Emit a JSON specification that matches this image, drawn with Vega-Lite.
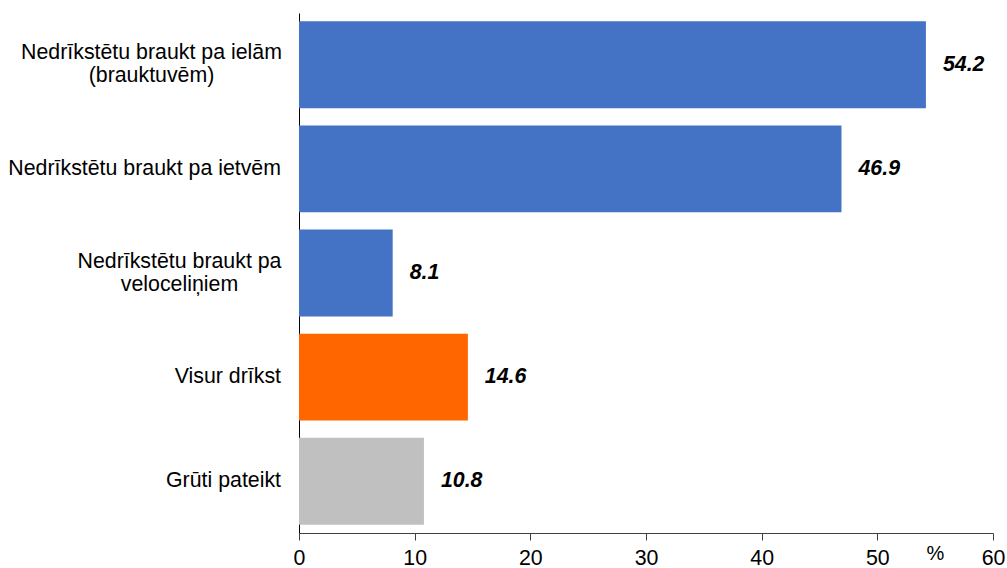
{
  "$schema": "https://vega.github.io/schema/vega-lite/v6.json",
  "width": 694,
  "height": 520,
  "autosize": {"type": "none"},
  "padding": {"left": 299, "top": 13, "right": 14, "bottom": 35},
  "config": {"view": {"stroke": null}, "font": "Liberation Sans"},
  "data": {"values": [
    {"cat": "Nedrīkstētu braukt pa ielām\n(brauktuvēm)", "value": 54.2, "group": "a"},
    {"cat": "Nedrīkstētu braukt pa ietvēm", "value": 46.9, "group": "a"},
    {"cat": "Nedrīkstētu braukt pa\nveloceliņiem", "value": 8.1, "group": "a"},
    {"cat": "Visur drīkst", "value": 14.6, "group": "b"},
    {"cat": "Grūti pateikt", "value": 10.8, "group": "c"}
  ]},
  "encoding": {
    "y": {
      "field": "cat", "type": "nominal", "sort": null,
      "scale": {"paddingInner": 0.165, "paddingOuter": 0.08},
      "axis": {
        "title": null, "ticks": false, "tickSize": 0,
        "domainColor": "#000000", "domainWidth": 1,
        "labelFontSize": 21.33, "labelColor": "#000000", "labelLineHeight": 23,
        "labelLimit": 400, "labelBaseline": "middle",
        "labelExpr": "split(datum.value, '\\n')",
        "labelAlign": {"condition": {"test": "indexof(datum.value, '\\n') >= 0", "value": "center"}, "value": "right"},
        "labelOffset": {"condition": {"test": "indexof(datum.value, '\\n') >= 0", "value": -11.5}, "value": 0},
        "labelPadding": {"condition": [
          {"test": "indexof(datum.value, '(brauktuv') >= 0", "value": 148},
          {"test": "indexof(datum.value, 'velocel') >= 0", "value": 120}
        ], "value": 18.5}
      }
    },
    "x": {
      "field": "value", "type": "quantitative",
      "scale": {"domain": [0, 60], "nice": false},
      "axis": {
        "title": "%", "values": [0, 10, 20, 30, 40, 50, 60], "grid": false,
        "tickSize": 7, "tickColor": "#404040", "domainColor": "#404040",
        "labelFontSize": 21.33, "labelColor": "#000000", "labelBaseline": "alphabetic",
        "labelPadding": 24, "labelFlush": false, "labelOverlap": false,
        "titleFontSize": 20, "titleFontWeight": "normal", "titleColor": "#000000",
        "titleX": 636, "titleY": 26, "titleBaseline": "alphabetic", "titleAlign": "center", "titleAnchor": null
      }
    }
  },
  "layer": [
    {
      "mark": {"type": "bar"},
      "encoding": {
        "color": {"field": "group", "type": "nominal",
          "scale": {"domain": ["a", "b", "c"], "range": ["#4472C4", "#FF6600", "#C0C0C0"]},
          "legend": null}
      }
    },
    {
      "mark": {"type": "text", "align": "left", "baseline": "middle", "dx": 17,
        "fontStyle": "italic", "fontWeight": "bold", "fontSize": 21.33, "color": "#000000"},
      "encoding": {"text": {"field": "value", "type": "quantitative", "format": ".1f"}}
    }
  ]
}
